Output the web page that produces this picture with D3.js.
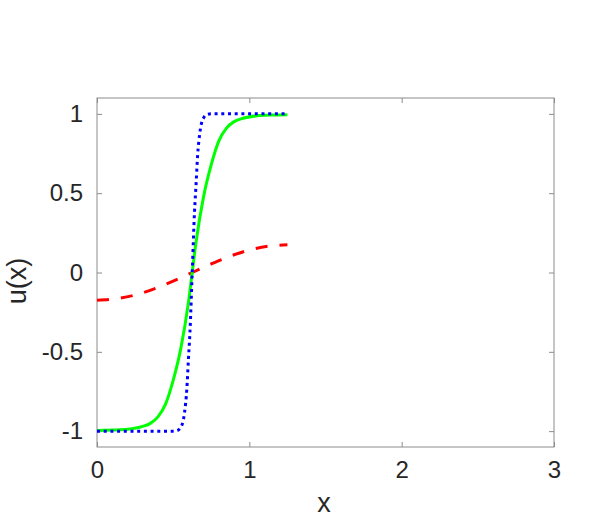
<!DOCTYPE html>
<meta charset="utf-8">
<style>
body { margin: 0; background: #fff; }
.tick text { font-family: "Liberation Sans", Arial, sans-serif; font-size: 24px; fill: #262626; }
.lbl { font-family: "Liberation Sans", Arial, sans-serif; font-size: 27px; fill: #262626; }
</style>
<body>
<script src="https://cdnjs.cloudflare.com/ajax/libs/d3/7.8.5/d3.min.js"></script>
<script>
var width = 598,
    height = 531;

// values
var xTicks = [0, 1, 2, 3];
var yTicks = [-1, -0.5, 0, 0.5, 1];

var redX = [0, 0.125, 0.25, 0.375, 0.5, 0.625, 0.75, 0.875, 1.0, 1.125, 1.25];
var redU = [-0.175, -0.166, -0.142, -0.103, -0.054, 0, 0.054, 0.103, 0.142, 0.166, 0.175];

var greenX = [0, 0.1, 0.2, 0.3, 0.35, 0.4, 0.45, 0.5, 0.55, 0.6, 0.625, 0.65, 0.7, 0.75, 0.8, 0.85, 0.9, 0.95, 1.05, 1.15, 1.25];
var greenU = [-0.996, -0.993, -0.988, -0.97, -0.951, -0.91, -0.83, -0.68, -0.48, -0.19, 0, 0.19, 0.48, 0.68, 0.83, 0.91, 0.951, 0.97, 0.988, 0.993, 0.995];

var blueX = [0, 0.5, 0.53, 0.55, 0.56, 0.575, 0.59, 0.6, 0.61, 0.625, 0.64, 0.65, 0.66, 0.675, 0.69, 0.7, 0.72, 0.75, 1.25];
var blueU = [-1, -1, -0.995, -0.975, -0.955, -0.88, -0.73, -0.55, -0.38, 0, 0.38, 0.55, 0.73, 0.88, 0.955, 0.975, 0.995, 1, 1];

var margin = {left: 97, right: 44, top: 98, bottom: 84};

var svg = d3.select('body').append('svg')
    .attr('width', width)
    .attr('height', height);

var x = d3.scaleLinear().domain([0, 3]).range([margin.left, width - margin.right]);
var y = d3.scaleLinear().domain([-1.1, 1.1]).range([height - margin.bottom, margin.top]);

var axisColor = '#8c8c8c';

function styleAxis(g, hideText) {
    g.select('.domain').remove();
    g.selectAll('.tick line').attr('stroke', axisColor);
    if (hideText) g.selectAll('.tick text').remove();
}

// bottom / top
svg.append('g')
    .attr('transform', 'translate(0,' + y(-1.1) + ')')
    .call(d3.axisBottom(x).tickValues(xTicks).tickFormat(d3.format('d')).tickSizeInner(-5).tickPadding(14))
    .call(function(g) { styleAxis(g, false); });
svg.append('g')
    .attr('transform', 'translate(0,' + y(1.1) + ')')
    .call(d3.axisTop(x).tickValues(xTicks).tickSizeInner(-5))
    .call(function(g) { styleAxis(g, true); });
// left / right
svg.append('g')
    .attr('transform', 'translate(' + x(0) + ',0)')
    .call(d3.axisLeft(y).tickValues(yTicks).tickFormat(function(d) { return d === 0 ? '0' : String(d); }).tickSizeInner(-5).tickPadding(14))
    .call(function(g) { styleAxis(g, false); });
svg.append('g')
    .attr('transform', 'translate(' + x(3) + ',0)')
    .call(d3.axisRight(y).tickValues(yTicks).tickSizeInner(-5))
    .call(function(g) { styleAxis(g, true); });

// box
svg.append('rect')
    .attr('x', x(0)).attr('y', y(1.1))
    .attr('width', x(3) - x(0)).attr('height', y(-1.1) - y(1.1))
    .attr('fill', 'none')
    .attr('stroke', axisColor)
    .attr('stroke-width', 1);

var line = d3.line()
    .x(function(d) { return x(d[0]); })
    .y(function(d) { return y(d[1]); })
    .curve(d3.curveMonotoneX);

function zip(a, b) { return a.map(function(v, i) { return [v, b[i]]; }); }

svg.append('path')
    .datum(zip(redX, redU))
    .attr('d', line)
    .attr('fill', 'none')
    .attr('stroke', '#ff0000')
    .attr('stroke-width', 3)
    .attr('stroke-dasharray', '12,12');

svg.append('path')
    .datum(zip(greenX, greenU))
    .attr('d', line)
    .attr('fill', 'none')
    .attr('stroke', '#00ff00')
    .attr('stroke-width', 3);

svg.append('path')
    .datum(zip(blueX, blueU))
    .attr('d', line)
    .attr('fill', 'none')
    .attr('stroke', '#0000ff')
    .attr('stroke-width', 3)
    .attr('stroke-dasharray', '3,3.7');

// labels
svg.append('text')
    .attr('class', 'lbl')
    .attr('x', 324)
    .attr('y', 512)
    .attr('text-anchor', 'middle')
    .text('x');

svg.append('text')
    .attr('class', 'lbl')
    .attr('transform', 'translate(26,281) rotate(-90)')
    .attr('text-anchor', 'middle')
    .text('u(x)');
</script>
</body>
</html>
